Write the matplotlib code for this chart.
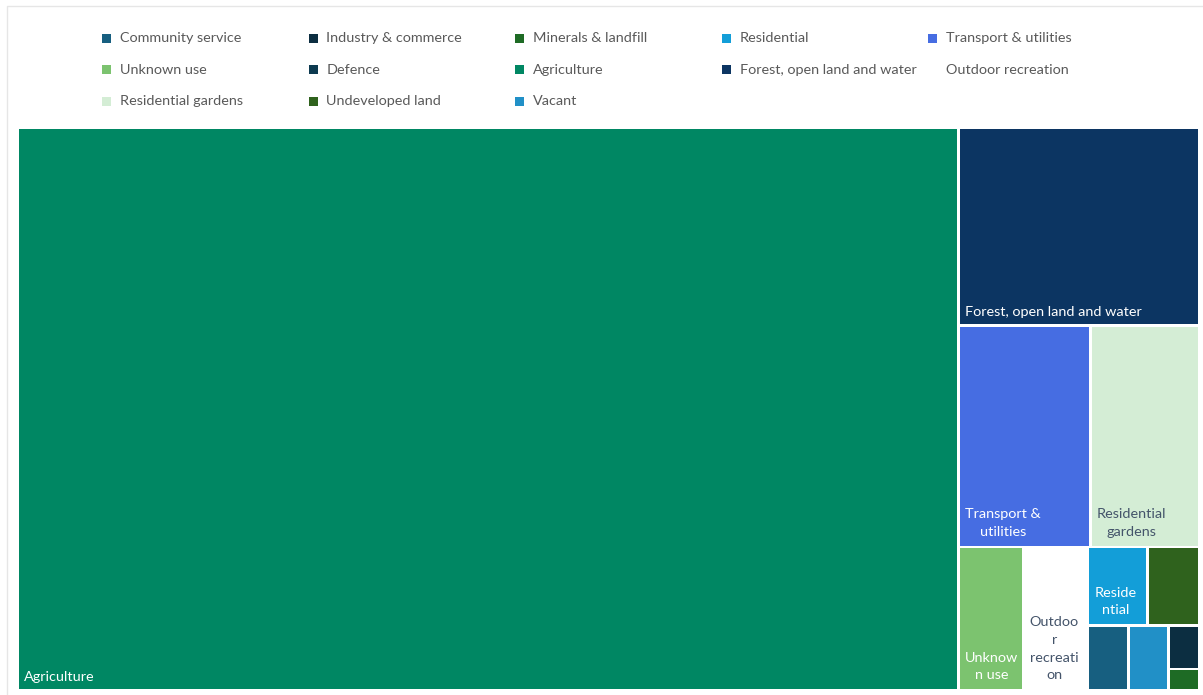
import matplotlib
matplotlib.use("Agg")
import matplotlib.pyplot as plt
from matplotlib.patches import Rectangle

# land use share (%)
categories = ["Community service", "Industry & commerce", "Minerals & landfill", "Residential",
              "Transport & utilities", "Unknown use", "Defence", "Agriculture",
              "Forest, open land and water", "Outdoor recreation", "Residential gardens",
              "Undeveloped land", "Vacant"]
share = [0.40, 0.20, 0.10, 0.70, 4.38, 1.40, 0.00, 79.66, 7.15, 1.39, 3.62, 0.61, 0.39]
colors = ["#175f80", "#0c2e41", "#1e6b25", "#139ed8", "#466de2", "#7cc36f", "#0d3a50",
          "#008763", "#0c3562", "#ffffff", "#d4edd5", "#2f621d", "#2190c7"]
# labels as Excel wraps them inside the cells (blank = no room)
cell_labels = ["", "", "", "Reside\nntial", "Transport &\nutilities", "Unknow\nn use", "",
               "Agriculture", "Forest, open land and water", "Outdoo\nr\nrecreati\non",
               "Residential\ngardens", "", ""]
dark_text = {"Outdoor recreation", "Residential gardens"}

FONT = "Lato"
FS = 10.4


def worst(row, side):
    s = sum(row)
    return max(max(side * side * r / (s * s), s * s / (side * side * r)) for r in row)


def squarify(items, x, y, w, h):
    out = {}
    while items:
        side = min(w, h)
        row = [items[0]]
        i = 1
        while i < len(items):
            cand = row + [items[i]]
            if worst([a for _, a in cand], side) <= worst([a for _, a in row], side):
                row = cand
                i += 1
            else:
                break
        items = items[i:]
        s = sum(a for _, a in row)
        if w >= h:
            cw = s / h
            yy = y
            for k, a in row:
                out[k] = (x, yy, cw, a / cw)
                yy += a / cw
            x += cw
            w -= cw
        else:
            rh = s / w
            xx = x
            for k, a in row:
                out[k] = (xx, y, a / rh, rh)
                xx += a / rh
            y += rh
            h -= rh
    return out


fig = plt.figure(figsize=(12.03, 6.95), dpi=100)
ax = fig.add_axes([0, 0, 1, 1])
ax.set_xlim(0, 1203)
ax.set_ylim(695, 0)
ax.axis("off")

# faint chart frame
ax.plot([7, 7, 1203], [695, 6, 6], color="#e6e6e6", lw=1)

# plot area and layout stretch (Excel favours slightly tall cells)
x0, y0, W, H = 17.4, 128.0, 1181.6, 562.6
stretch = 1.2
gap = 1.3

Hs = H / stretch
total = sum(share)
order = sorted([i for i, v in enumerate(share) if v > 0], key=lambda i: -share[i])
items = [(i, share[i] / total * W * Hs) for i in order]
rects = squarify(items, x0, 0.0, W, Hs)

for i, (rx, ry, rw, rh) in rects.items():
    px, py, pw, ph = rx, y0 + ry * stretch, rw, rh * stretch
    ax.add_patch(Rectangle((px + gap, py + gap), pw - 2 * gap, ph - 2 * gap,
                           facecolor=colors[i], edgecolor="none"))
    if cell_labels[i]:
        tc = "#44546a" if categories[i] in dark_text else "white"
        nl = cell_labels[i].count("\n")
        ax.text(px + gap + 5, py + ph - gap - 6 - (2 if nl else 0), cell_labels[i],
                ha="left", va="bottom", multialignment="center", fontsize=FS,
                color=tc, family=FONT, linespacing=1.56)

# legend, row by row, five per row
for i, name in enumerate(categories):
    r, c = divmod(i, 5)
    lx = 102 + c * 206.5
    ly = 38 + r * 31.5
    ax.add_patch(Rectangle((lx, ly - 4.5), 9, 9, facecolor=colors[i], edgecolor="none"))
    ax.text(lx + 18, ly, name, ha="left", va="center", fontsize=FS, color="#595959",
            family=FONT)

fig.savefig("out.png", dpi=100)
